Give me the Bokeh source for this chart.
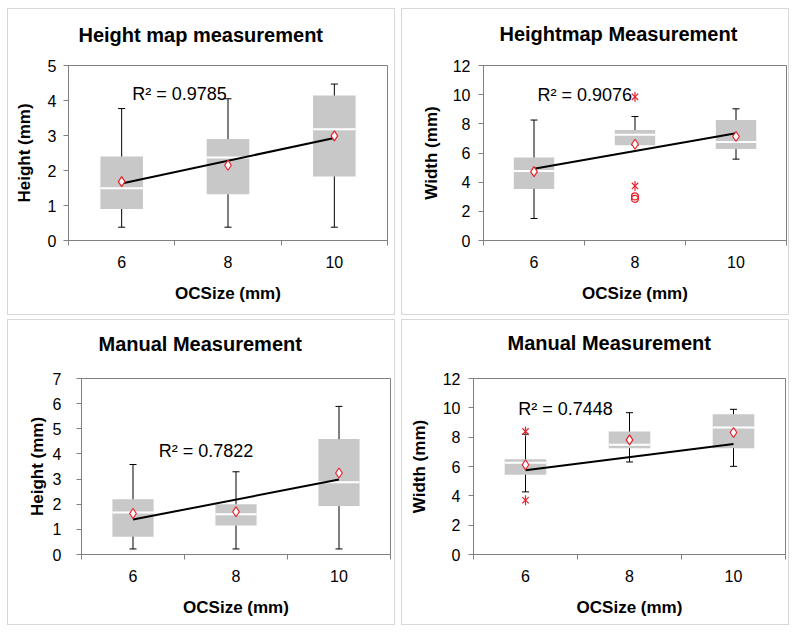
import numpy as np
from bokeh.plotting import figure
from bokeh.models import Range1d, FixedTicker, Label, Title
from bokeh.layouts import column, row
from bokeh.embed import file_html
from bokeh.resources import INLINE

FONT = "Liberation Sans"

categories = ["6", "8", "10"]

# --- Panel 1: Height map measurement, Height (mm)
p1_title = "Height map measurement"
p1_ylabel = "Height (mm)"
p1_yticks = [0, 1, 2, 3, 4, 5]
p1_wlo = [0.38, 0.38, 0.38]
p1_q1 = [0.90, 1.32, 1.83]
p1_med = [1.49, 2.37, 3.18]
p1_q3 = [2.40, 2.90, 4.14]
p1_whi = [3.77, 4.05, 4.47]
p1_mean = [1.68, 2.15, 2.99]
p1_trend = [1.63, 2.93]
p1_r2 = "R² = 0.9785"
p1_star_cat, p1_star_val = [], []
p1_circ_cat, p1_circ_val = [], []

# --- Panel 2: Heightmap Measurement, Width (mm)
p2_title = "Heightmap Measurement"
p2_ylabel = "Width (mm)"
p2_yticks = [0, 2, 4, 6, 8, 10, 12]
p2_wlo = [1.51, 6.53, 5.58]
p2_q1 = [3.54, 6.53, 6.27]
p2_med = [4.76, 7.26, 6.75]
p2_q3 = [5.69, 7.57, 8.26]
p2_whi = [8.26, 8.50, 9.03]
p2_mean = [4.72, 6.60, 7.13]
p2_trend = [4.92, 7.35]
p2_r2 = "R² = 0.9076"
p2_star_cat, p2_star_val = ["8", "8"], [9.85, 3.74]
p2_circ_cat, p2_circ_val = ["8", "8"], [3.02, 2.86]

# --- Panel 3: Manual Measurement, Height (mm)
p3_title = "Manual Measurement"
p3_ylabel = "Height (mm)"
p3_yticks = [0, 1, 2, 3, 4, 5, 6, 7]
p3_wlo = [0.22, 0.22, 0.22]
p3_q1 = [0.71, 1.15, 1.93]
p3_med = [1.67, 1.60, 2.87]
p3_q3 = [2.20, 2.00, 4.59]
p3_whi = [3.58, 3.29, 5.89]
p3_mean = [1.63, 1.70, 3.24]
p3_trend = [1.39, 2.98]
p3_r2 = "R² = 0.7822"
p3_star_cat, p3_star_val = [], []
p3_circ_cat, p3_circ_val = [], []

# --- Panel 4: Manual Measurement, Width (mm)
p4_title = "Manual Measurement"
p4_ylabel = "Width (mm)"
p4_yticks = [0, 2, 4, 6, 8, 10, 12]
p4_wlo = [4.27, 6.31, 6.01]
p4_q1 = [5.44, 7.25, 7.25]
p4_med = [6.26, 7.48, 8.66]
p4_q3 = [6.49, 8.38, 9.56]
p4_whi = [8.20, 9.67, 9.90]
p4_mean = [6.12, 7.82, 8.32]
p4_trend = [5.74, 7.53]
p4_r2 = "R² = 0.7448"
p4_star_cat, p4_star_val = ["6", "6"], [8.39, 3.70]
p4_circ_cat, p4_circ_val = [], []


def pos(cats):
    return [categories.index(c) + 0.5 for c in cats]


def panel(title, ylabel, yticks, wlo, q1, med, q3, whi, mean, trend, r2,
          star_cat, star_val, circ_cat, circ_val,
          w, h, mb, title_off, r2_xy, lab_standoff, ylab_standoff):
    ncat = len(categories)
    centers = [i + 0.5 for i in range(ncat)]
    p = figure(width=w, height=h, x_range=Range1d(0, ncat),
               y_range=Range1d(yticks[0], yticks[-1]), title=None,
               output_backend="svg", toolbar_location=None,
               min_border_left=mb[0], min_border_right=mb[1],
               min_border_top=mb[2], min_border_bottom=mb[3],
               styles={"border": "1px solid #d8d8d8", "box-sizing": "border-box"})
    p.xgrid.visible = False
    p.ygrid.visible = False
    p.outline_line_color = "#808080"
    p.background_fill_color = "white"

    # invisible spacer between the frame and the title, then the title
    p.add_layout(Title(text=" ", text_font_size="1px", standoff=title_off[2]), "above")
    p.add_layout(Title(text=title, align="left", offset=title_off[0],
                       standoff=title_off[1], text_font=FONT, text_font_size="20px",
                       text_font_style="bold", text_color="black"), "above")

    # x axis (category labels centred, ticks between categories)
    xa = p.below[0]
    xa.ticker = FixedTicker(ticks=centers, minor_ticks=list(range(ncat + 1)))
    xa.major_label_overrides = {c: lab for c, lab in zip(centers, categories)}
    xa.major_tick_out = 0
    xa.major_tick_in = 0
    xa.minor_tick_out = 5
    xa.minor_tick_in = 0
    xa.axis_label = "OCSize (mm)"
    xa.major_label_standoff = 10
    xa.axis_label_standoff = 13

    ya = p.left[0]
    ya.ticker = FixedTicker(ticks=yticks)
    ya.major_tick_out = 5
    ya.major_tick_in = 0
    ya.minor_tick_out = 0
    ya.minor_tick_in = 0
    ya.axis_label = ylabel
    ya.major_label_standoff = lab_standoff
    ya.axis_label_standoff = ylab_standoff

    for ax in (xa, ya):
        ax.axis_line_color = "#808080"
        ax.major_tick_line_color = "#808080"
        ax.minor_tick_line_color = "#808080"
        ax.major_label_text_font = FONT
        ax.major_label_text_font_size = "16px"
        ax.major_label_text_color = "black"
        ax.axis_label_text_font = FONT
        ax.axis_label_text_font_size = "17px"
        ax.axis_label_text_font_style = "bold"
        ax.axis_label_text_color = "black"

    # boxes
    p.vbar(x=centers, width=0.4, bottom=q1, top=q3,
           fill_color="#c8c8c8", line_color=None)
    # whiskers
    p.segment(x0=centers, y0=q3, x1=centers, y1=whi, line_color="black", line_width=1)
    p.segment(x0=centers, y0=q1, x1=centers, y1=wlo, line_color="black", line_width=1)
    p.scatter(x=centers, y=whi, marker="dash", size=7, line_color="black", line_width=1)
    p.scatter(x=centers, y=wlo, marker="dash", size=7, line_color="black", line_width=1)
    # medians
    half = 0.2
    p.segment(x0=[c - half for c in centers], y0=med,
              x1=[c + half for c in centers], y1=med,
              line_color="white", line_width=2)
    # trend line
    p.line(x=[centers[0], centers[-1]], y=trend, line_color="black", line_width=2)
    # means
    p.scatter(x=centers, y=mean, marker="diamond", size=10,
              fill_color="white", line_color="#e8202a", line_width=1.2)
    # outliers
    if star_cat:
        sx = pos(star_cat)
        p.scatter(x=sx, y=star_val, marker="x", size=9, line_color="#e8202a", line_width=1.2)
        p.scatter(x=sx, y=star_val, marker="dash", angle=np.pi / 2, size=10,
                  line_color="#e8202a", line_width=1.2)
    if circ_cat:
        p.scatter(x=pos(circ_cat), y=circ_val, marker="circle", size=7,
                  fill_color=None, line_color="#e8202a", line_width=1.2)

    # R^2
    p.add_layout(Label(x=r2_xy[0], y=r2_xy[1], text=r2, text_align="left",
                       text_baseline="middle", text_font=FONT, text_font_size="18px",
                       text_color="black"))
    return p


f1 = panel(p1_title, p1_ylabel, p1_yticks, p1_wlo, p1_q1, p1_med, p1_q3, p1_whi, p1_mean,
           p1_trend, p1_r2, p1_star_cat, p1_star_val, p1_circ_cat, p1_circ_val,
           388, 307, (60, 9, 56, 76), (10, 10, 12), (0.60, 4.2), 7, 11)
f2 = panel(p2_title, p2_ylabel, p2_yticks, p2_wlo, p2_q1, p2_med, p2_q3, p2_whi, p2_mean,
           p2_trend, p2_r2, p2_star_cat, p2_star_val, p2_circ_cat, p2_circ_val,
           388, 307, (81, 4, 55, 72), (16, 10, 13), (0.535, 10.0), 8, 9)
f3 = panel(p3_title, p3_ylabel, p3_yticks, p3_wlo, p3_q1, p3_med, p3_q3, p3_whi, p3_mean,
           p3_trend, p3_r2, p3_star_cat, p3_star_val, p3_circ_cat, p3_circ_val,
           388, 306, (73, 6, 56, 72), (17, 10, 16), (0.75, 4.1), 15, 3)
f4 = panel(p4_title, p4_ylabel, p4_yticks, p4_wlo, p4_q1, p4_med, p4_q3, p4_whi, p4_mean,
           p4_trend, p4_r2, p4_star_cat, p4_star_val, p4_circ_cat, p4_circ_val,
           388, 306, (71, 5, 58, 71), (34, 10, 17), (0.43, 9.9), 8, 11)

layout = column(row(f1, f2, spacing=6), row(f3, f4, spacing=6), spacing=4,
                margin=(8, 0, 0, 7))

open("out.html", "w").write(file_html(layout, INLINE))
